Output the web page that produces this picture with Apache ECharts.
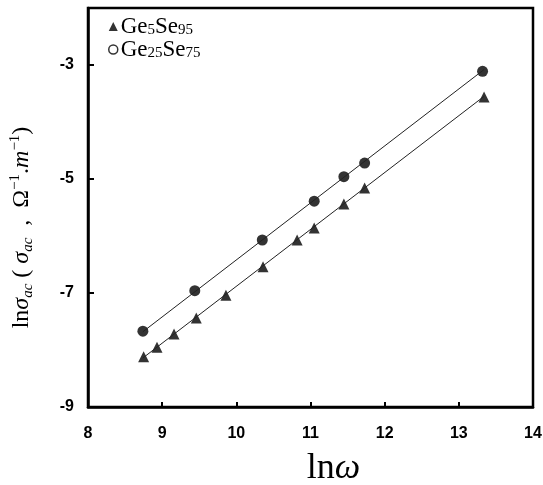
<!DOCTYPE html>
<html>
<head>
<meta charset="utf-8">
<script src="https://cdn.jsdelivr.net/npm/echarts@6/dist/echarts.min.js"></script>
<style>
html,body{margin:0;padding:0;background:#fff;}
#main{width:543px;height:485px;}
</style>
</head>
<body>
<div id="main"></div>
<script>
// Ge5Se95 (triangles)
var triX = [8.75, 8.93, 9.16, 9.46, 9.86, 10.36, 10.82, 11.05, 11.45, 11.73, 13.34];
var triY = [-8.12, -7.95, -7.72, -7.44, -7.04, -6.54, -6.07, -5.86, -5.44, -5.16, -3.56];
// Ge25Se75 (circles)
var cirX = [8.74, 9.44, 10.35, 11.05, 11.45, 11.73, 13.32];
var cirY = [-7.67, -6.96, -6.07, -5.39, -4.96, -4.72, -3.11];
// fitted lines
var fitX = [8.74, 13.34];
var triFit = [-8.14, -3.55];
var cirFit = [-7.68, -3.08];

var xTicks = [8, 9, 10, 11, 12, 13, 14];
var yTicks = [-9, -7, -5, -3];

function pairs(xs, ys) {
	var out = [];
	for (var i = 0; i < xs.length; i++) {
		out.push([xs[i], ys[i]]);
	}
	return out;
}

var serif = 'Liberation Serif';
var chart = echarts.init(document.getElementById('main'));
chart.setOption({
	animation: false,
	backgroundColor: '#fff',
	grid: {
		left: 88, right: 10, top: 8, bottom: 78,
		outerBoundsMode: 'none', containLabel: false,
		show: true, borderColor: '#000', borderWidth: 2.5, backgroundColor: 'transparent'
	},
	legend: {
		left: 103, top: 10,
		orient: 'vertical',
		itemGap: 0,
		itemWidth: 9, itemHeight: 9,
		data: [
			{name: 'Ge5Se95', icon: 'triangle'},
			{name: 'Ge25Se75', icon: 'circle', itemStyle: {color: '#fff', borderColor: '#000', borderWidth: 1.5}}
		],
		formatter: function (name) {
			if (name === 'Ge5Se95') return '{m|Ge}{s|5}{m|Se}{s|95}';
			return '{m|Ge}{s|25}{m|Se}{s|75}';
		},
		textStyle: {
			padding: [0, 0, 0, -2],
			rich: {
				m: {fontFamily: serif, fontSize: 23, color: '#000', lineHeight: 23, verticalAlign: 'bottom'},
				s: {fontFamily: serif, fontSize: 15, color: '#000', lineHeight: 11, verticalAlign: 'bottom'}
			}
		}
	},
	xAxis: {
		type: 'value', min: 8, max: 14, interval: 1,
		name: '{m|ln}{i|ω}',
		nameLocation: 'middle', nameGap: 44,
		nameTextStyle: {
			padding: [0, 0, 0, 46],
			rich: {
				m: {fontFamily: serif, fontSize: 36, color: '#000'},
				i: {fontFamily: serif, fontSize: 36, fontStyle: 'italic', color: '#000'}
			}
		},
		axisLine: {show: true, lineStyle: {color: '#000', width: 2.5}},
		axisTick: {show: true, inside: true, length: 5, lineStyle: {color: '#000', width: 2},
			customValues: [9, 10, 11, 12, 13]},
		axisLabel: {margin: 19, color: '#000', fontFamily: 'Liberation Sans', fontWeight: 'bold', fontSize: 16,
			customValues: xTicks},
		splitLine: {show: false}
	},
	yAxis: {
		type: 'value', min: -9, max: -2, interval: 1,
		name: '{m|ln}{i|σ}{si|ac}{m| (}{i| σ}{si|ac}{m|  ,  Ω}{su|−1}{m|.}{i|m}{su|−1}{m|)}',
		nameLocation: 'middle', nameGap: 52, nameRotate: 90,
		nameTextStyle: {
			padding: [0, 40, 0, 0],
			rich: {
				m: {fontFamily: serif, fontSize: 24, color: '#000', lineHeight: 28, verticalAlign: 'middle'},
				i: {fontFamily: serif, fontSize: 24, fontStyle: 'italic', color: '#000', lineHeight: 28, verticalAlign: 'middle'},
				si: {fontFamily: serif, fontSize: 15, fontStyle: 'italic', color: '#000', lineHeight: 10, verticalAlign: 'bottom'},
				su: {fontFamily: serif, fontSize: 15, color: '#000', lineHeight: 10, verticalAlign: 'top'}
			}
		},
		axisLine: {show: true, lineStyle: {color: '#000', width: 2.5}},
		axisTick: {show: true, inside: true, length: 6, lineStyle: {color: '#000', width: 2},
			customValues: [-7, -5, -3]},
		axisLabel: {margin: 14, color: '#000', fontFamily: 'Liberation Sans', fontWeight: 'bold', fontSize: 16,
			customValues: yTicks},
		splitLine: {show: false}
	},
	series: [
		{
			name: 'fitTri', type: 'line', data: pairs(fitX, triFit), symbol: 'none',
			lineStyle: {color: '#222', width: 1}, silent: true
		},
		{
			name: 'fitCir', type: 'line', data: pairs(fitX, cirFit), symbol: 'none',
			lineStyle: {color: '#222', width: 1}, silent: true
		},
		{
			name: 'Ge5Se95', type: 'scatter', data: pairs(triX, triY),
			symbol: 'triangle', symbolSize: 11,
			itemStyle: {color: '#000'}
		},
		{
			name: 'Ge25Se75', type: 'scatter', data: pairs(cirX, cirY),
			symbol: 'circle', symbolSize: 11,
			itemStyle: {color: '#000'}
		}
	]
});
</script>
</body>
</html>
